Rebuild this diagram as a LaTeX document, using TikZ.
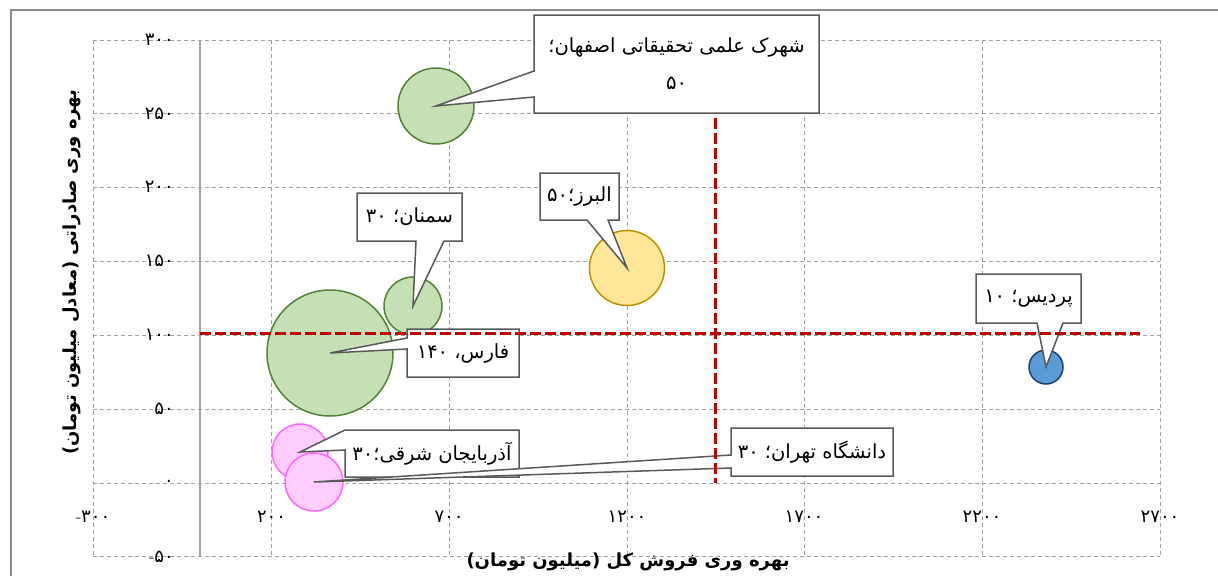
\documentclass[tikz,border=0pt]{standalone}
\usepackage{fontspec}
\usetikzlibrary{calc}
\TeXXeTstate=1
\newfontfamily\fa[Script=Arabic]{DejaVu Sans}
\definecolor{gFill}{HTML}{C5E0B4}
\definecolor{gEdge}{HTML}{538135}
\definecolor{yFill}{HTML}{FFE699}
\definecolor{yEdge}{HTML}{BF9000}
\definecolor{bFill}{HTML}{5B9BD5}
\definecolor{bEdge}{HTML}{1F3F6E}
\definecolor{pFill}{HTML}{FFCCFF}
\definecolor{pEdge}{HTML}{FF66FF}
\definecolor{redL}{HTML}{C00000}
\definecolor{gridC}{HTML}{A0A0A0}
\definecolor{axisC}{HTML}{A6A6A6}
\definecolor{frameC}{HTML}{8C8C8C}
\definecolor{callC}{HTML}{595959}
\begin{document}
\begin{tikzpicture}[x=1pt,y=-1pt,
  gridln/.style={draw=gridC,line width=1,dash pattern=on 4pt off 3pt},
  redln/.style={draw=redL,line width=3,dash pattern=on 11pt off 4pt},
  bubble/.style={circle,inner sep=0,outer sep=0,line width=1.5},
  bubG/.style={bubble,draw=gEdge,fill=gFill},
  bubY/.style={bubble,draw=yEdge,fill=yFill},
  bubB/.style={bubble,draw=bEdge,fill=bFill},
  bubP/.style={bubble,draw=pEdge,fill=pFill},
  cbox/.style={rectangle,inner sep=0,outer sep=0},
  cline/.style={draw=callC,line width=1.5,fill=white,line join=miter},
  ctext/.style={font=\fa\fontsize{19.5}{24}\selectfont,align=center,inner sep=0},
  tick/.style={font=\fa\fontsize{18}{20}\selectfont,inner sep=0},
  atitle/.style={font=\fa\bfseries\fontsize{18}{20}\selectfont,inner sep=0}]
\useasboundingbox (0,0) rectangle (1218,576);
% outer frame
\draw[frameC,line width=1.2] (11,576) -- (11,10) -- (1218,10);
% grid
\foreach \gx in {93,271.5,449,627,804,982,1160}
  \draw[gridln] (\gx,40) -- (\gx,556.5);
\foreach \gy in {40,113.5,187,261,335,409,483,556.5}
  \draw[gridln] (93,\gy) -- (1160,\gy);
\draw[axisC,line width=1.2] (200,40) -- (200,556.5);
% y tick labels
\node[tick,anchor=east] (y300) at (174,40) {۳۰۰};
\node[tick,anchor=east] (y250) at (174,113.5) {۲۵۰};
\node[tick,anchor=east] (y200) at (174,187) {۲۰۰};
\node[tick,anchor=east] (y150) at (174,261) {۱۵۰};
\node[tick,anchor=east] (y100) at (174,335) {۱۰۰};
\node[tick,anchor=east] (y50) at (174,409) {۵۰};
\node[tick,anchor=east] (y0) at (174,483) {۰};
\node[tick,anchor=east] (ym50) at (174,556.5) {\rmfamily\fontsize{18}{20}\selectfont -\fa ۵۰};
% x tick labels
\node[tick] (xm300) at (93,517) {\rmfamily\fontsize{18}{20}\selectfont -\fa ۳۰۰};
\node[tick] (x200) at (271.5,517) {۲۰۰};
\node[tick] (x700) at (449,517) {۷۰۰};
\node[tick] (x1200) at (627,517) {۱۲۰۰};
\node[tick] (x1700) at (804,517) {۱۷۰۰};
\node[tick] (x2200) at (982,517) {۲۲۰۰};
\node[tick] (x2700) at (1160,517) {۲۷۰۰};
% axis titles
\node[atitle,rotate=90] (ytitle) at (72,272) {\beginR بهره وری صادراتی (معادل میلیون تومان)\endR};
\node[atitle] (xtitle) at (628,562) {\beginR بهره وری فروش کل (میلیون تومان)\endR};
% bubbles
\node[bubG,minimum size=126] (farsB) at (330,353) {};
\node[bubG,minimum size=58] (semB) at (413,306) {};
\node[bubG,minimum size=76] (isfB) at (436,106) {};
\node[bubY,minimum size=75] (albB) at (627,268) {};
\node[bubB,minimum size=34] (parB) at (1046,367) {};
\node[bubP,minimum size=56] (azaB) at (300,452) {};
\node[bubP,minimum size=58] (tehB) at (314,482) {};
% callout: Isfahan
\node[cbox,minimum width=285,minimum height=98] (isf) at (676.5,64) {};
\filldraw[cline] (isf.north west) -- (isf.north east) -- (isf.south east) -- (isf.south west)
  -- ($(isf.north west)+(0,82)$) -- (isfB.center) -- ($(isf.north west)+(0,56)$) -- cycle;
\node[ctext,font=\fa\fontsize{19.5}{37}\selectfont] (isfL) at (isf.center) {\beginR شهرک علمی تحقیقاتی اصفهان؛\endR\\ ۵۰};
% callout: Semnan
\node[cbox,minimum width=105,minimum height=48] (sem) at (409.5,217) {};
\filldraw[cline] (sem.north west) -- (sem.north east) -- (sem.south east)
  -- ($(sem.south west)+(87,0)$) -- (semB.center) -- ($(sem.south west)+(59,0)$) -- (sem.south west) -- cycle;
\node[ctext] (semL) at (sem.center) {\beginR سمنان؛ ۳۰\endR};
% callout: Alborz
\node[cbox,minimum width=79,minimum height=47] (alb) at (579.5,196.5) {};
\filldraw[cline] (alb.north west) -- (alb.north east) -- (alb.south east)
  -- ($(alb.south west)+(68,0)$) -- (albB.center) -- ($(alb.south west)+(47,0)$) -- (alb.south west) -- cycle;
\node[ctext] (albL) at (alb.center) {\beginR البرز؛۵۰\endR};
% callout: Fars
\node[cbox,minimum width=112,minimum height=48] (far) at (463,353) {};
\filldraw[cline] (far.north west) -- (far.north east) -- (far.south east) -- (far.south west)
  -- ($(far.north west)+(0,20)$) -- (farsB.center) -- ($(far.north west)+(0,9)$) -- cycle;
\node[ctext] (farL) at (far.center) {\beginR فارس، ۱۴۰\endR};
% callout: Pardis
\node[cbox,minimum width=105,minimum height=49] (par) at (1028.5,298.5) {};
\filldraw[cline] (par.north west) -- (par.north east) -- (par.south east)
  -- ($(par.south west)+(87,0)$) -- (parB.center) -- ($(par.south west)+(61,0)$) -- (par.south west) -- cycle;
\node[ctext] (parL) at (par.center) {\beginR پردیس؛ ۱۰\endR};
% callout: Azarbaijan
\node[cbox,minimum width=174,minimum height=47] (aza) at (432,453.5) {};
\filldraw[cline] (aza.north west) -- (aza.north east) -- (aza.south east) -- (aza.south west)
  -- ($(aza.north west)+(0,20)$) -- (azaB.center) -- cycle;
\node[ctext] (azaL) at (aza.center) {\beginR آذربایجان شرقی؛۳۰\endR};
% callout: Tehran University
\node[cbox,minimum width=162,minimum height=48] (teh) at (812,452) {};
\filldraw[cline] (teh.north west) -- (teh.north east) -- (teh.south east) -- (teh.south west)
  -- ($(teh.north west)+(0,40)$) -- (tehB.center) -- ($(teh.north west)+(0,27)$) -- cycle;
\node[ctext] (tehL) at (teh.center) {\beginR دانشگاه تهران؛ ۳۰\endR};
% red reference lines
\coordinate (hA) at (200,333);
\coordinate (hB) at (1140,333);
\coordinate (vA) at (715,118);
\coordinate (vB) at (715,483);
\draw[redln] (hA) -- (hB);
\draw[redln] (vA) -- (vB);
\end{tikzpicture}
\end{document}
